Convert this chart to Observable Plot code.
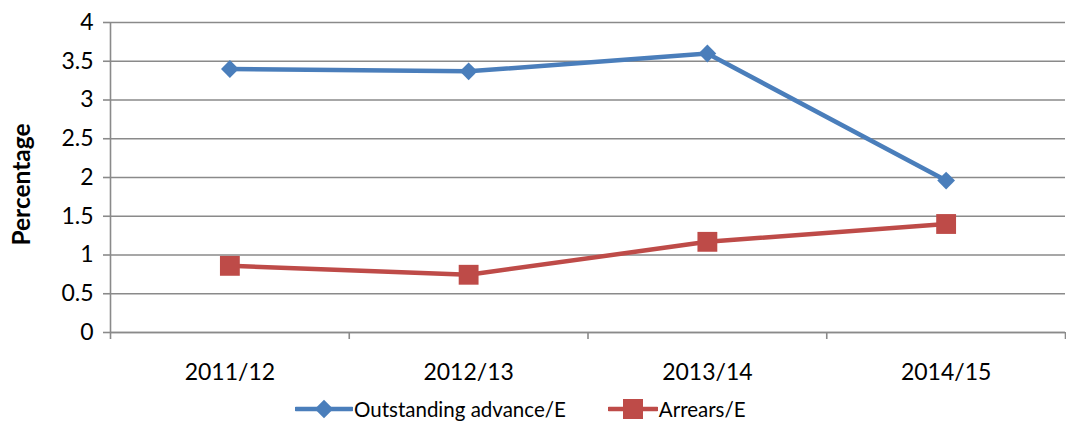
<!DOCTYPE html>
<html>
<head>
<meta charset="utf-8">
<script src="https://cdn.jsdelivr.net/npm/d3@7"></script>
<script src="https://cdn.jsdelivr.net/npm/@observablehq/plot@0.6"></script>
<style>
  html, body { margin: 0; padding: 0; background: #fff; }
  body { width: 1066px; height: 428px; overflow: hidden; font-family: Lato, "Open Sans", sans-serif; }
  #legend { height: 38px; display: flex; align-items: center; padding-left: 295px; font-size: 20.5px; color: #000; }
  .item { display: flex; align-items: center; }
  .item svg { display: block; }
</style>
</head>
<body>
<div id="chart"></div>
<div id="legend"></div>
<script>
const categories = ["2011/12", "2012/13", "2013/14", "2014/15"];
const outstandingAdvance = [3.40, 3.37, 3.60, 1.96];
const arrears = [0.86, 0.745, 1.17, 1.40];
const yTicks = [0, 0.5, 1, 1.5, 2, 2.5, 3, 3.5, 4];
const seriesNames = ["Outstanding advance/E", "Arrears/E"];
const colors = ["#4a7ebb", "#be4b48"];

const rows = [];
categories.forEach((c, i) => {
  rows.push({series: seriesNames[0], i: i + 0.5, cat: c, value: outstandingAdvance[i]});
  rows.push({series: seriesNames[1], i: i + 0.5, cat: c, value: arrears[i]});
});
const boundaries = d3.range(categories.length + 1);
const centers = categories.map((c, i) => i + 0.5);

const chart = Plot.plot({
  width: 1066,
  height: 390,
  marginTop: 22,
  marginBottom: 58,
  marginLeft: 110,
  marginRight: 1,
  style: {fontFamily: "Lato, 'Open Sans', sans-serif", fontSize: "23px", color: "#000", background: "#fff"},
  x: {type: "linear", domain: [0, categories.length]},
  y: {domain: [0, 4]},
  color: {domain: seriesNames, range: colors},
  marks: [
    Plot.gridY(yTicks, {stroke: "#8a8a8a", strokeOpacity: 1, strokeWidth: 1.6}),
    Plot.ruleX([0], {stroke: "#8a8a8a", strokeWidth: 1.6}),
    Plot.axisY(yTicks, {tickSize: 7, tickPadding: 10, stroke: "#8a8a8a", strokeWidth: 1.6, fill: "#000", label: null, tickFormat: d => String(d)}),
    Plot.axisX(boundaries, {tickSize: 7, tickFormat: () => "", stroke: "#8a8a8a", strokeWidth: 1.6, label: null}),
    Plot.axisX(centers, {tickSize: 0, tickPadding: 31, tickFormat: d => categories[Math.round(d - 0.5)], fill: "#000", label: null}),
    Plot.ruleY([0], {stroke: "#8a8a8a", strokeWidth: 1.6}),
    Plot.text(["Percentage"], {frameAnchor: "left", textAnchor: "middle", rotate: -90, dx: -88, dy: 7, fontWeight: "bold", fontSize: 24.5, fill: "#000"}),
    Plot.line(rows, {x: "i", y: "value", stroke: "series", strokeWidth: 4.5, z: "series"}),
    Plot.dot(rows.filter(d => d.series === seriesNames[0]), {x: "i", y: "value", symbol: "diamond2", r: 8, fill: colors[0], stroke: "none"}),
    Plot.dot(rows.filter(d => d.series === seriesNames[1]), {x: "i", y: "value", symbol: "square", r: 11.2, fill: colors[1], stroke: "none"})
  ]
});
document.getElementById("chart").appendChild(chart);

// legend
const legend = document.getElementById("legend");
const symbols = ["diamond", "square"];
seriesNames.forEach((name, k) => {
  const item = document.createElement("div");
  item.className = "item";
  if (k > 0) item.style.marginLeft = "42px";
  const w = k === 0 ? 58 : 50;
  const svg = d3.create("svg").attr("width", w).attr("height", 24);
  svg.append("line").attr("x1", 1).attr("x2", w - 1).attr("y1", 12).attr("y2", 12)
    .attr("stroke", colors[k]).attr("stroke-width", 4.5).attr("stroke-linecap", "round");
  if (symbols[k] === "diamond") {
    svg.append("path").attr("d", d3.symbol(d3.symbolDiamond2, 220)()).attr("transform", `translate(${w/2},12)`).attr("fill", colors[k]);
  } else {
    svg.append("rect").attr("x", w/2 - 10).attr("y", 2).attr("width", 20).attr("height", 20).attr("fill", colors[k]);
  }
  item.appendChild(svg.node());
  const span = document.createElement("span");
  span.textContent = name;
  span.style.marginLeft = "1px";
  item.appendChild(span);
  legend.appendChild(item);
});
</script>
</body>
</html>
